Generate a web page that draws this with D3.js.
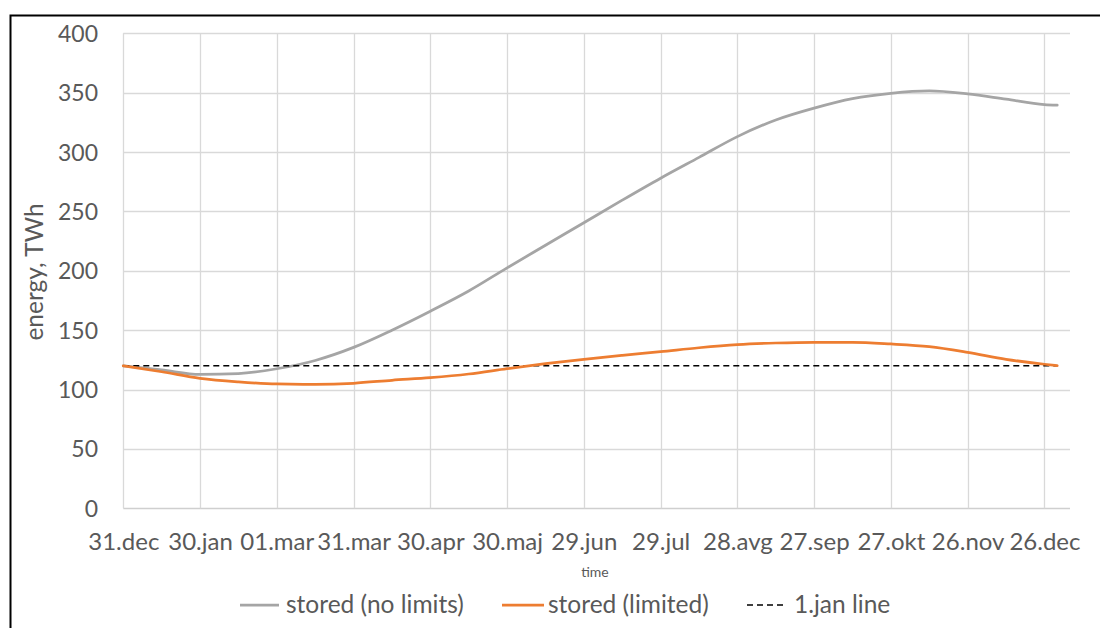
<!DOCTYPE html>
<html>
<head>
<meta charset="utf-8">
<script src="https://cdn.jsdelivr.net/npm/d3@7"></script>
<style>
  html, body { margin: 0; padding: 0; background: #ffffff; }
  svg { display: block; }
  text { font-family: Lato, "Noto Sans", sans-serif; }
</style>
</head>
<body>
<svg id="chart" width="1100" height="628"></svg>
<script>
// ---- data ----
const days = [0, 15, 30, 45, 60, 75, 90, 105, 120, 135, 150, 165, 180, 195, 210, 225, 240, 255, 270, 285, 300, 315, 330, 345, 360, 365];
const storedNoLimits = [120, 116.5, 112.8, 113.5, 117.5, 124.5, 135.5, 150, 166, 183, 202.5, 221.5, 240.5, 259.5, 278, 295.5, 313, 327, 337, 345, 349.5, 351.5, 349, 344.5, 340, 339.5];
const storedLimited = [120, 115, 109.5, 106.5, 104.7, 104.4, 105.3, 107.8, 110, 113.1, 117.6, 121.8, 125.5, 128.8, 131.9, 135.2, 137.8, 139.2, 139.8, 139.8, 138.4, 136.1, 131.3, 125.5, 121.3, 120.2];
const jan1Days = [0, 365];
const jan1Values = [120, 120];
const tickDays = [0, 30, 60, 90, 120, 150, 180, 210, 240, 270, 300, 330, 360];
const tickLabels = ["31.dec", "30.jan", "01.mar", "31.mar", "30.apr", "30.maj", "29.jun", "29.jul", "28.avg", "27.sep", "27.okt", "26.nov", "26.dec"];
const yTicks = [0, 50, 100, 150, 200, 250, 300, 350, 400];
const seriesNames = ["stored (no limits)", "stored (limited)", "1.jan line"];

// ---- layout ----
const svg = d3.select("#chart");
const x = d3.scaleLinear().domain([0, 370]).range([123.3, 1070]);
const y = d3.scaleLinear().domain([0, 400]).range([508.3, 33.3]);

// outer frame
svg.append("rect").attr("x", 10.5).attr("y", 15.5).attr("width", 1200).attr("height", 700)
  .attr("fill", "#fff").attr("stroke", "#000").attr("stroke-width", 2);

// horizontal gridlines
svg.append("g").selectAll("line").data(yTicks).join("line")
  .attr("x1", x(0)).attr("x2", x(370))
  .attr("y1", d => Math.round(y(d)) + 0.5).attr("y2", d => Math.round(y(d)) + 0.5)
  .attr("stroke", d => d === 0 ? "#cfcfcf" : "#d9d9d9").attr("stroke-width", 1.3);

// vertical gridlines
svg.append("g").selectAll("line").data(tickDays).join("line")
  .attr("x1", d => Math.round(x(d)) + 0.5).attr("x2", d => Math.round(x(d)) + 0.5)
  .attr("y1", y(400)).attr("y2", y(0))
  .attr("stroke", "#d9d9d9").attr("stroke-width", 1.3);

// y axis labels
const yAxis = d3.axisLeft(y).tickValues(yTicks).tickSize(0).tickPadding(0);
const gy = svg.append("g").attr("transform", "translate(98,0)").call(yAxis);
gy.select(".domain").remove();
gy.selectAll("text").attr("font-size", 23).attr("fill", "#595959")
  .attr("font-family", "Lato, sans-serif").attr("dy", "0.35em");

// x axis labels
const xAxis = d3.axisBottom(x).tickValues(tickDays).tickFormat((d, i) => tickLabels[i]).tickSize(0).tickPadding(0);
const gx = svg.append("g").attr("transform", "translate(0,533)").call(xAxis);
gx.select(".domain").remove();
gx.selectAll("text").attr("font-size", 24).attr("fill", "#595959")
  .attr("font-family", "Lato, sans-serif").attr("dy", "0.71em");

// axis titles
svg.append("text").attr("transform", "translate(43,272) rotate(-90)")
  .attr("text-anchor", "middle").attr("font-size", 24.5).attr("fill", "#595959")
  .text("energy, TWh");
svg.append("text").attr("x", 595).attr("y", 577).attr("text-anchor", "middle")
  .attr("font-size", 14).attr("fill", "#595959").text("time");

// lines
const line = d3.line().x(d => x(d[0])).y(d => y(d[1])).curve(d3.curveMonotoneX);
const g = svg.append("g");
g.append("path").datum(days.map((d, i) => [d, storedNoLimits[i]]))
  .attr("d", line).attr("fill", "none").attr("stroke", "#a5a5a5").attr("stroke-width", 2.75)
  .attr("stroke-linejoin", "round").attr("stroke-linecap", "round");
g.append("path").datum(jan1Days.map((d, i) => [d, jan1Values[i]]))
  .attr("d", line).attr("fill", "none").attr("stroke", "#000").attr("stroke-width", 1.6)
  .attr("stroke-dasharray", "6,4");
g.append("path").datum(days.map((d, i) => [d, storedLimited[i]]))
  .attr("d", line).attr("fill", "none").attr("stroke", "#ed7d31").attr("stroke-width", 2.75)
  .attr("stroke-linejoin", "round").attr("stroke-linecap", "round");

// legend
const legendItems = [
  { name: seriesNames[0], color: "#a5a5a5", dash: null, x1: 240, x2: 279, tx: 286, w: 2.75 },
  { name: seriesNames[1], color: "#ed7d31", dash: null, x1: 502, x2: 544, tx: 548, w: 2.75 },
  { name: seriesNames[2], color: "#000", dash: "6,4", x1: 747, x2: 787, tx: 794, w: 1.5 }
];
const lg = svg.append("g");
legendItems.forEach(it => {
  lg.append("line").attr("x1", it.x1).attr("x2", it.x2).attr("y1", 605).attr("y2", 605)
    .attr("stroke", it.color).attr("stroke-width", it.w)
    .attr("stroke-dasharray", it.dash);
  lg.append("text").attr("x", it.tx).attr("y", 613).attr("font-size", 24.5)
    .attr("fill", "#595959").text(it.name);
});
</script>
</body>
</html>
